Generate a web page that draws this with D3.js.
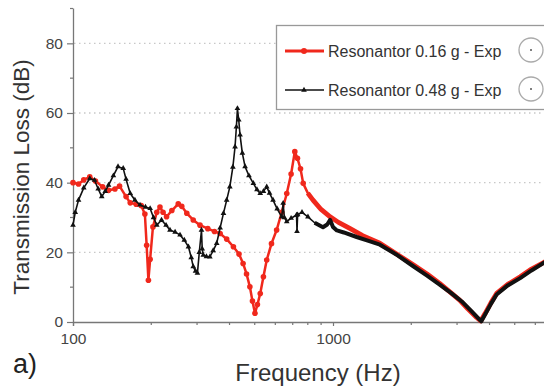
<!DOCTYPE html>
<html>
<head>
<meta charset="utf-8">
<script src="https://cdn.jsdelivr.net/npm/d3@7"></script>
<style>
  body { margin:0; background:#fff; }
  svg { display:block; font-family:"Liberation Sans", Arial, sans-serif; }
</style>
</head>
<body>
<svg id="viz-svg" width="544" height="387"></svg>
<script>
// Resonantor 0.16 g - Exp  (red)
var redFreq = [100,105,110,116,122,130,137,145,151,160,166,175,183,189,192,195,198,203,210,216,222,229,240,254,262,274,290,308,330,350,368,390,414,435,451,465,479,490,501,512,525,540,556,580,607,635,664,690,713,730,750,768,800,838,900,975,1050,1165,1300,1515,1750,2036,2300,2571,2800,3070,3300,3568,3700,3850,4050,4259,4700,5248,5800,6430,7000];
var redTL   = [40,39.6,40.8,41.7,40.5,38.8,37.8,38.2,39,36,34.2,33.8,33.4,31,22,12,18,27.3,31.5,33,31.5,30.2,32,33.9,33.2,31.2,29.3,27.8,26.8,26,25.4,23.8,21.6,19.5,16.8,13.8,10.1,6,2.5,5,8.2,13,17.8,22.5,26.4,31.5,36.9,42.5,48.9,47,44,39.8,37,35,32.3,30.2,28.6,26.8,24.8,22.6,19.6,16.4,13.8,11.1,8.8,6.3,3.8,1.3,0.3,2.5,5.5,8.2,10.8,13,15.2,17,18.5];

// Resonantor 0.48 g - Exp  (black)
var blackFreq = [100,102,105,110,116,121,125,129,133,137,143,149,156,160,166,173,181,190,198,204,210,219,228,236,247,258,268,278,285,290,296,301,306,312,314,317,326,336,346,357,368,379,390,401,412,420,425,429,434,439,448,459,475,494,510,525,540,556,570,588,610,635,643,650,664,690,724,727,731,760,801,850,915,950,975,1000,1035,1100,1233,1370,1515,1750,2036,2300,2571,2850,3128,3400,3630,3720,3850,4050,4259,4700,5248,5800,6430,7000];
var blackTL   = [27.8,31.5,35,38.5,41.2,40.7,38.2,36,37.5,39.3,42,44.6,44.1,41,36.9,35,33.6,33,32.6,30,27.8,29.3,27.8,26.4,25.8,25,23.5,21.6,18.5,15.9,14.6,14,20,26.4,21,19.2,18.8,18.7,20.5,22.6,27,31.2,35,38.8,44.5,50.3,56,61.3,58,53.7,48.5,44.6,42,39.8,38,36.9,37.5,38.8,37,35,32.5,30.2,34.1,30,28.8,29.8,30.7,26,30.8,31.5,30.2,28.5,27.2,28,29.3,27.3,26.3,25.7,24.4,23.3,22.2,19.4,16,13.3,10.7,8.3,5.9,3.2,1,0.2,2.2,5.2,7.9,10.5,12.6,14.8,16.9,18.3];

var yTicks = [0,20,40,60,80];
var yMinor = [10,30,50,70,90];
var xMajor = [100,1000];
var legendLabels = ["Resonantor 0.16 g - Exp","Resonantor 0.48 g - Exp"];

var svg = d3.select("#viz-svg");

var x = d3.scaleLog().domain([100,10000]).range([73,593]);
var y = d3.scaleLinear().domain([0,90]).range([322,8.5]);

var red = redFreq.map(function(f,i){ return [f, redTL[i]]; });
var black = blackFreq.map(function(f,i){ return [f, blackTL[i]]; });

// grid lines (dotted)
svg.append("g").selectAll("line")
  .data(yTicks.slice(1))
  .enter().append("line")
  .attr("x1",74).attr("x2",544)
  .attr("y1",function(d){ return y(d); })
  .attr("y2",function(d){ return y(d); })
  .attr("stroke","#c8c8c8")
  .attr("stroke-width",1.3)
  .attr("stroke-dasharray","1.5,3.5");

// y axis
var yAxis = d3.axisLeft(y).tickValues(yTicks).tickSize(6).tickPadding(4);
var gy = svg.append("g").attr("transform","translate(73,0)").call(yAxis);
gy.select(".domain").attr("stroke","#777").attr("stroke-width",1.3).attr("d","M0.5,322V8.5");
gy.selectAll(".tick line").attr("stroke","#777").attr("stroke-width",1.2);
gy.selectAll(".tick text").attr("fill","#444").style("font-size","15.5px").style("font-family","Liberation Sans, Arial, sans-serif");
svg.append("g").selectAll("line")
  .data(yMinor)
  .enter().append("line")
  .attr("x1",70).attr("x2",73)
  .attr("y1",function(d){ return y(d); })
  .attr("y2",function(d){ return y(d); })
  .attr("stroke","#777").attr("stroke-width",1.2);

// x axis
var xMinor = [];
[100,1000].forEach(function(b){ for (var k=2;k<10;k++) xMinor.push(b*k); });
var xAxis = d3.axisBottom(x).tickValues(xMajor).tickSize(4).tickPadding(7)
  .tickFormat(d3.format("d"));
var gx = svg.append("g").attr("transform","translate(0,322)").call(xAxis);
gx.select(".domain").attr("stroke","#777").attr("stroke-width",1.3);
gx.selectAll(".tick line").attr("stroke","#777").attr("stroke-width",1.2);
gx.selectAll(".tick text").attr("fill","#444").style("font-size","15.5px").style("font-family","Liberation Sans, Arial, sans-serif");
gx.append("g").selectAll("line")
  .data(xMinor)
  .enter().append("line")
  .attr("x1",function(d){ return x(d); })
  .attr("x2",function(d){ return x(d); })
  .attr("y1",0).attr("y2",3)
  .attr("stroke","#777").attr("stroke-width",1.2);

// series
var line = d3.line()
  .x(function(d){ return x(d[0]); })
  .y(function(d){ return y(d[1]); });

svg.append("path")
  .datum(red)
  .attr("fill","none").attr("stroke","#f0281c")
  .attr("stroke-width",2.5).attr("stroke-linejoin","round")
  .attr("d",line);
svg.append("path")
  .datum(red.filter(function(d){ return d[0]>=800; }))
  .attr("fill","none").attr("stroke","#f0281c")
  .attr("stroke-width",4.8).attr("stroke-linejoin","round")
  .attr("d",line);
svg.append("g").selectAll("circle")
  .data(red.filter(function(d){ return d[0]<800; }))
  .enter().append("circle")
  .attr("cx",function(d){ return x(d[0]); })
  .attr("cy",function(d){ return y(d[1]); })
  .attr("r",2.8)
  .attr("fill","#f0281c");

var tri = d3.symbol().type(d3.symbolTriangle).size(14);
svg.append("path")
  .datum(black)
  .attr("fill","none").attr("stroke","#111")
  .attr("stroke-width",1.6).attr("stroke-linejoin","round")
  .attr("d",line);
svg.append("path")
  .datum(black.filter(function(d){ return d[0]>=850; }))
  .attr("fill","none").attr("stroke","#111")
  .attr("stroke-width",4).attr("stroke-linejoin","round")
  .attr("d",line);
svg.append("g").selectAll("path")
  .data(black.filter(function(d){ return d[0]<850; }))
  .enter().append("path")
  .attr("d",tri)
  .attr("transform",function(d){ return "translate("+x(d[0])+","+y(d[1])+")"; })
  .attr("fill","#111");

// legend
var legend = svg.append("g").attr("id","legend");
legend.append("rect")
  .attr("x",276.5).attr("y",25.5).attr("width",290).attr("height",84)
  .attr("fill","#fff").attr("stroke","#999").attr("stroke-width",1.3);
var rowY = [51,90];
var colors = ["#f0281c","#111"];
legendLabels.forEach(function(lab,i){
  legend.append("line")
    .attr("x1",285).attr("x2",324).attr("y1",rowY[i]).attr("y2",rowY[i])
    .attr("stroke",colors[i]).attr("stroke-width",i==0?2.8:1.6);
  if (i==0) {
    legend.append("circle").attr("cx",304).attr("cy",rowY[i]).attr("r",3).attr("fill",colors[i]);
  } else {
    legend.append("path").attr("d",tri).attr("transform","translate(304,"+rowY[i]+")").attr("fill",colors[i]);
  }
  legend.append("text")
    .attr("x",328).attr("y",rowY[i]+6)
    .attr("fill","#333")
    .style("font-size","16px")
    .text(lab);
  legend.append("circle")
    .attr("cx",531).attr("cy",rowY[i]-1).attr("r",12)
    .attr("fill","#fff").attr("stroke","#aaa").attr("stroke-width",1.3);
  legend.append("circle")
    .attr("cx",531).attr("cy",rowY[i]-1).attr("r",1)
    .attr("fill","#555");
});

// axis titles
svg.append("text")
  .attr("transform","translate(29,177) rotate(-90)")
  .attr("text-anchor","middle")
  .attr("fill","#333")
  .style("font-size","22.5px")
  .text("Transmission Loss (dB)");
svg.append("text")
  .attr("x",318).attr("y",381)
  .attr("text-anchor","middle")
  .attr("fill","#333")
  .style("font-size","24px")
  .text("Frequency (Hz)");
svg.append("text")
  .attr("x",13).attr("y",373)
  .attr("fill","#222")
  .style("font-size","27px")
  .text("a)");
</script>
</body>
</html>
